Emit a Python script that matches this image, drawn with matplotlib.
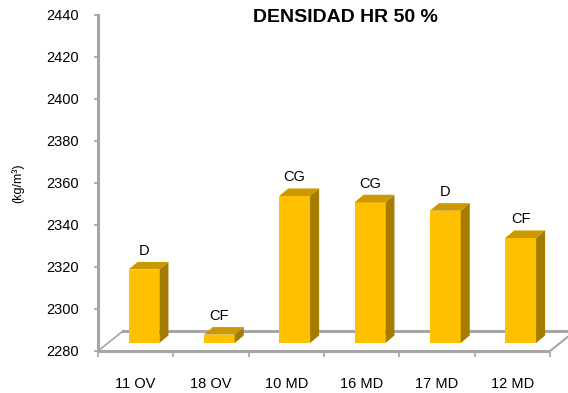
import numpy as np
import matplotlib
matplotlib.use('Agg')
import matplotlib.pyplot as plt
from matplotlib.patches import Polygon

plt.rcParams['font.family'] = ['Liberation Sans', 'DejaVu Sans']

# Densidad a HR 50 %
categorias = ['11 OV', '18 OV', '10 MD', '16 MD', '17 MD', '12 MD']
densidad = [2315, 2284, 2350, 2347, 2343, 2330]
clases = ['D', 'CF', 'CG', 'CG', 'D', 'CF']
yticks = [2280, 2300, 2320, 2340, 2360, 2380, 2400, 2420, 2440]

Y0, Y1 = 2280, 2440
FRONT = '#FFC000'
TOP = '#CC9A00'
SIDE = '#A67C00'
GRIS = '#A6A6A6'

# pseudo-3D geometry (category units, value units)
floor_d = (0.332, 9.5)    # depth of the floor
bar_off = (0.11, 3.8)     # bar front face offset from front edge
bar_d = (0.12, 3.6)       # bar depth
bar_w = 0.41

fig = plt.figure(figsize=(5.68, 3.93), dpi=100)
ax = fig.add_axes([98/568, 42/393, 452/568, 336/393])
ax.set_xlim(0, len(categorias))
ax.set_ylim(Y0, Y1)
for s in ['top', 'right', 'bottom']:
    ax.spines[s].set_visible(False)
ax.spines['left'].set_color(GRIS)
ax.spines['left'].set_linewidth(2.2)

# floor
n = len(categorias)
fx, fy = floor_d
floor = Polygon([(0, Y0), (n, Y0), (n + fx, Y0 + fy), (fx, Y0 + fy)],
                closed=True, facecolor='white', edgecolor='none', clip_on=False, zorder=1)
ax.add_patch(floor)
ax.plot([0, n], [Y0, Y0], color=GRIS, lw=2.2, clip_on=False, zorder=1.5, solid_capstyle='butt')
ax.plot([fx, n + fx], [Y0 + fy, Y0 + fy], color=GRIS, lw=2.2, clip_on=False, zorder=1.2)
ax.plot([0, fx], [Y0, Y0 + fy], color=GRIS, lw=1.2, clip_on=False, zorder=1.2)
ax.plot([n, n + fx], [Y0, Y0 + fy], color=GRIS, lw=1.5, clip_on=False, zorder=1.2)

# bars
ox, oy = bar_off
dx, dy = bar_d
for i, (v, c) in enumerate(zip(densidad, clases)):
    x0 = i + 0.5 - bar_w / 2 + ox
    x1 = x0 + bar_w
    b = Y0 + oy
    t = v + oy
    front = Polygon([(x0, b), (x1, b), (x1, t), (x0, t)], closed=True,
                    facecolor=FRONT, edgecolor='none', zorder=3, clip_on=False)
    top = Polygon([(x0, t), (x1, t), (x1 + dx, t + dy), (x0 + dx, t + dy)], closed=True,
                  facecolor=TOP, edgecolor='none', zorder=3, clip_on=False)
    side = Polygon([(x1, b), (x1 + dx, b + dy), (x1 + dx, t + dy), (x1, t)], closed=True,
                   facecolor=SIDE, edgecolor='none', zorder=3, clip_on=False)
    for p in (front, top, side):
        ax.add_patch(p)
    ax.annotate(c, xy=((x0 + x1) / 2, t + dy), xytext=(0, 3), textcoords='offset points',
                ha='center', va='bottom', fontsize=10.5, zorder=4)

# axes ticks
ax.set_yticks(yticks)
ax.set_yticklabels([str(y) for y in yticks])
ax.tick_params(axis='y', direction='out', length=3, width=1.2, color=GRIS,
               labelsize=10.5, pad=11)
ax.set_xticks(np.arange(0, n + 1))
ax.set_xticklabels([])
ax.tick_params(axis='x', which='major', direction='out', length=4, width=1.2, color=GRIS)
ax.set_xticks(np.arange(n) + 0.5, minor=True)
ax.set_xticklabels(categorias, minor=True)
ax.tick_params(axis='x', which='minor', length=0, labelsize=10.5, pad=19)

fig.text(18/568, 1 - 183/393, '(kg/m³)', rotation=90, ha='center', va='center', fontsize=9)
fig.text(345/568, 1 - 18/393, 'DENSIDAD HR 50 %', ha='center', va='center',
         fontsize=14, fontweight='bold')

fig.savefig('out.png', dpi=100)
